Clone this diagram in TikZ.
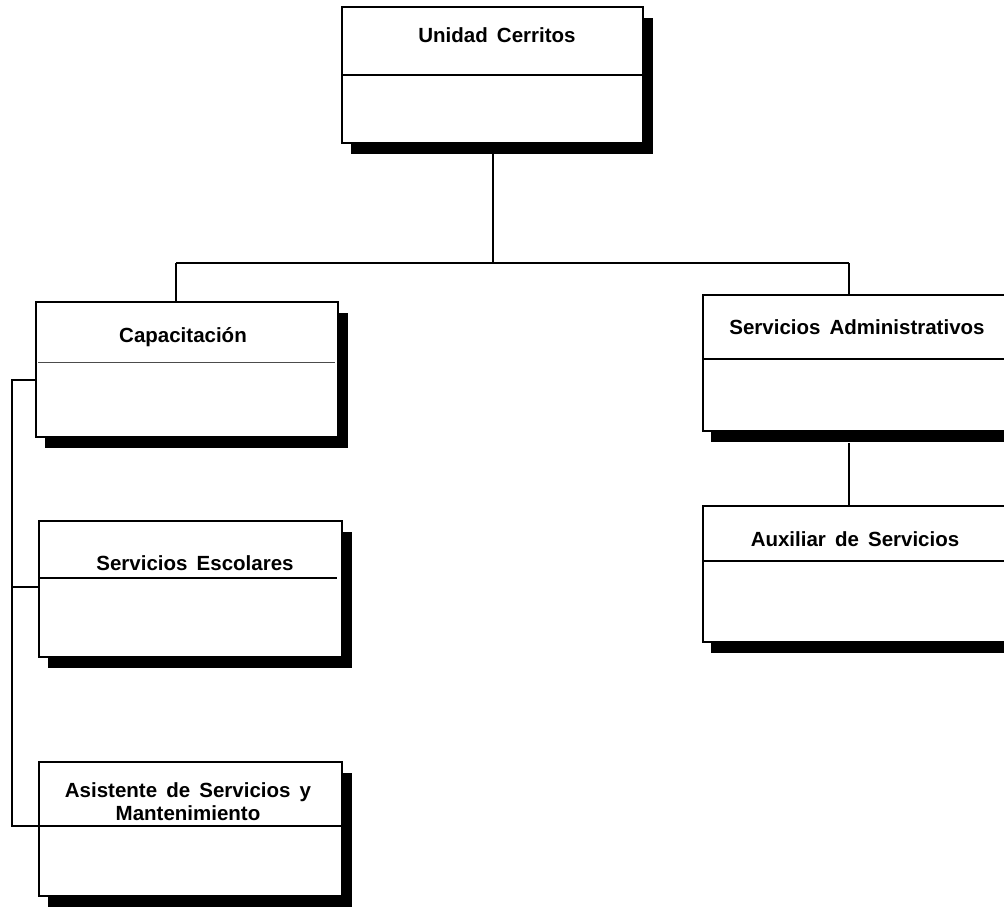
\documentclass[tikz,border=0pt]{standalone}
\usepackage{fontspec}
\setmainfont[WordSpace=1.6]{Liberation Sans}
\begin{document}
\begin{tikzpicture}[x=1pt,y=-1pt,
  conn/.style={line width=2pt},
  orgbox/.style={draw, line width=1.5pt, fill=white, rectangle, inner sep=0pt},
  boxshadow/.style={fill=black, draw=none},
  divider/.style={line width=1.5pt},
  thindiv/.style={line width=1pt, draw=black!70},
  lbl/.style={font=\bfseries\fontsize{20.5}{23}\selectfont, inner sep=0pt, align=center}
]
\useasboundingbox (0,0) rectangle (1004,907);
\clip (0,0) rectangle (1004,907);
% shadows
\fill[boxshadow] (351,18) rectangle (653,154);
\fill[boxshadow] (45,313) rectangle (348,448);
\fill[boxshadow] (711,306) rectangle (1020,442);
\fill[boxshadow] (711,517) rectangle (1020,653);
\fill[boxshadow] (48,532) rectangle (352,668);
\fill[boxshadow] (48,773) rectangle (352,907);
% coordinates for connectors
\coordinate (hl) at (176,263);
\coordinate (hr) at (849,263);
\coordinate (hm) at (493,263);
\coordinate (lv1) at (12,380);
\coordinate (lv2) at (12,587);
\coordinate (lv3) at (12,826);
% boxes
\node[orgbox, minimum width=301pt, minimum height=136pt] (uc) at (492.5,75) {};
\node[orgbox, minimum width=302pt, minimum height=135pt] (cap) at (187,369.5) {};
\node[orgbox, minimum width=307pt, minimum height=136pt] (sa) at (856.5,363) {};
\node[orgbox, minimum width=307pt, minimum height=136pt] (aux) at (856.5,574) {};
\node[orgbox, minimum width=303pt, minimum height=136pt] (se) at (190.5,589) {};
\node[orgbox, minimum width=303pt, minimum height=134pt] (as) at (190.5,829) {};
% dividers
\draw[divider] (uc.west |- 0,75) -- (uc.east |- 0,75);
\draw[thindiv] (38,362) -- (335,362);
\draw[divider] (sa.west |- 0,359) -- (sa.east |- 0,359);
\draw[divider] (aux.west |- 0,561) -- (aux.east |- 0,561);
\draw[divider] (se.west |- 0,578) -- (337,578);
\draw[divider] (as.west |- 0,826) -- (as.east |- 0,826);
% connectors
\draw[conn] (uc.south -| hm) -- (hm);
\draw[conn] (hl) -- (hr);
\draw[conn] (hl) -- (hl |- cap.north);
\draw[conn] (hr) -- (hr |- sa.north);
\draw[conn] (sa.south -| hr) ++(0,11) -- (aux.north -| hr);
\draw[conn] (cap.west |- lv1) -- (lv1) -- (lv3) -- (as.west |- lv3);
\draw[conn] (lv2) -- (se.west |- lv2);
% labels
\node[lbl, anchor=base] (tuc) at (497,42.7) {Unidad Cerritos};
\node[lbl, anchor=base] (tcap) at (183,342) {Capacitación};
\node[lbl, anchor=base] (tsa) at (857,334) {Servicios Administrativos};
\node[lbl, anchor=base] (taux) at (855,546) {Auxiliar de Servicios};
\node[lbl, anchor=base] (tse) at (195,570) {Servicios Escolares};
\node[lbl, anchor=north] (tas) at (188,782) {Asistente de Servicios y\\Mantenimiento};
\end{tikzpicture}
\end{document}
